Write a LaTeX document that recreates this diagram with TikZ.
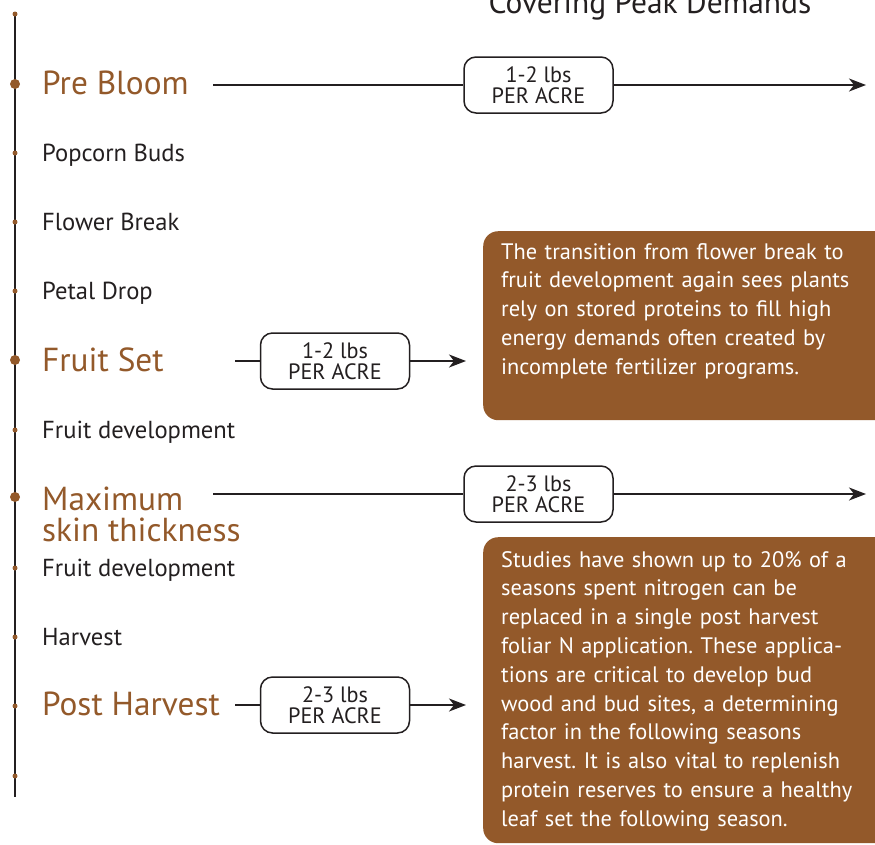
\documentclass[tikz,border=0pt]{standalone}
\usepackage{fontspec}
\setmainfont{PT Sans}
\usetikzlibrary{arrows.meta}
\definecolor{brn}{HTML}{93592A}
\definecolor{ink}{HTML}{231F20}
\begin{document}
\frenchspacing
\begin{tikzpicture}[x=1pt,y=-1pt,
 big/.style={anchor=base west, text=brn, font=\fontsize{33.3}{31}\selectfont, inner sep=0pt, align=left},
 small/.style={anchor=base west, text=ink, font=\fontsize{24.6}{26}\selectfont, inner sep=0pt},
 dose/.style={draw=ink, line width=1.5pt, rounded corners=12pt, minimum width=149pt, minimum height=56pt, align=center, font=\fontsize{22.2}{21.5}\selectfont, text=ink, inner sep=0pt},
 conn/.style={draw=ink, line width=1.5pt},
 arr/.style={conn, -{Stealth[length=17pt,width=13pt,inset=5pt]}},
 notebox/.style={fill=brn, rounded corners=15pt, anchor=north west, inner sep=0pt},
 notetext/.style={anchor=base west, text=white, text width=380pt, align=left, inner sep=0pt, font=\fontsize{22.4}{28.8}\selectfont},
 bigdot/.style={fill=brn, circle, inner sep=0pt, minimum size=10pt},
 smalldot/.style={fill=brn, circle, inner sep=0pt, minimum size=5pt},
 title/.style={anchor=base, text=ink, font=\fontsize{31.5}{32}\selectfont, inner sep=0pt}
]
\useasboundingbox (0,0) rectangle (875,844);
% timeline
\coordinate (ttop) at (15,12);
\coordinate (tbot) at (15,797);
\draw[conn] (ttop) -- (tbot);
\node[smalldot] (d0) at (15,14) {};
\node[bigdot] (d1) at (15,84) {};
\node[smalldot] (d2) at (15,153) {};
\node[smalldot] (d3) at (15,222) {};
\node[smalldot] (d4) at (15,291) {};
\node[bigdot] (d5) at (15,360) {};
\node[smalldot] (d6) at (15,430) {};
\node[bigdot] (d7) at (15,497) {};
\node[smalldot] (d8) at (15,568) {};
\node[smalldot] (d9) at (15,637) {};
\node[smalldot] (d10) at (15,706) {};
\node[smalldot] (d11) at (15,776) {};
% title
\node[title] (ttl) at (650,13) {Covering Peak Demands};
% labels
\node[big] (preb) at (42,94) {Pre Bloom};
\node[small] (pop) at (42,161) {Popcorn Buds};
\node[small] (flw) at (42,230) {Flower Break};
\node[small] (ptl) at (42,299) {Petal Drop};
\node[big] (fset) at (42,371) {Fruit Set};
\node[small] (fd1) at (42,438) {Fruit development};
\node[big] (maxs) at (42,541) {Maximum\\skin thickness};
\node[small] (fd2) at (42,576) {Fruit development};
\node[small] (hrv) at (42,645) {Harvest};
\node[big] (post) at (42,715) {Post Harvest};
% dose boxes and arrows
\node[dose] (b1) at (538.5,85) {1-2 lbs\\PER ACRE};
\coordinate (s1) at (213,85);
\coordinate (e1) at (866,85);
\draw[conn] (s1) -- (b1.west);
\draw[arr] (b1.east) -- (e1);

\node[dose] (b2) at (335,361) {1-2 lbs\\PER ACRE};
\coordinate (s2) at (235,361);
\coordinate (e2) at (466,361);
\draw[conn] (s2) -- (b2.west);
\draw[arr] (b2.east) -- (e2);

\node[dose] (b3) at (538.5,494) {2-3 lbs\\PER ACRE};
\coordinate (s3) at (213,494);
\coordinate (e3) at (866,494);
\draw[conn] (s3) -- (b3.west);
\draw[arr] (b3.east) -- (e3);

\node[dose] (b4) at (335,705) {2-3 lbs\\PER ACRE};
\coordinate (s4) at (235,705);
\coordinate (e4) at (466,705);
\draw[conn] (s4) -- (b4.west);
\draw[arr] (b4.east) -- (e4);
% notes
\node[notebox, minimum width=420pt, minimum height=189pt] (n1) at (483,231) {};
\node[notetext] (n1t) at (501,259) {The transition from flower break to\\fruit development again sees plants\\rely on stored proteins to fill high\\energy demands often created by\\incomplete fertilizer programs.};
\node[notebox, minimum width=420pt, minimum height=306pt] (n2) at (483,537) {};
\node[notetext] (n2t) at (501,567) {Studies have shown up to 20\% of a\\seasons spent nitrogen can be\\replaced in a single post harvest\\foliar N application. These applica-\\tions are critical to develop bud\\wood and bud sites, a determining\\factor in the following seasons\\harvest. It is also vital to replenish\\protein reserves to ensure a healthy\\leaf set the following season.};
\end{tikzpicture}
\end{document}
